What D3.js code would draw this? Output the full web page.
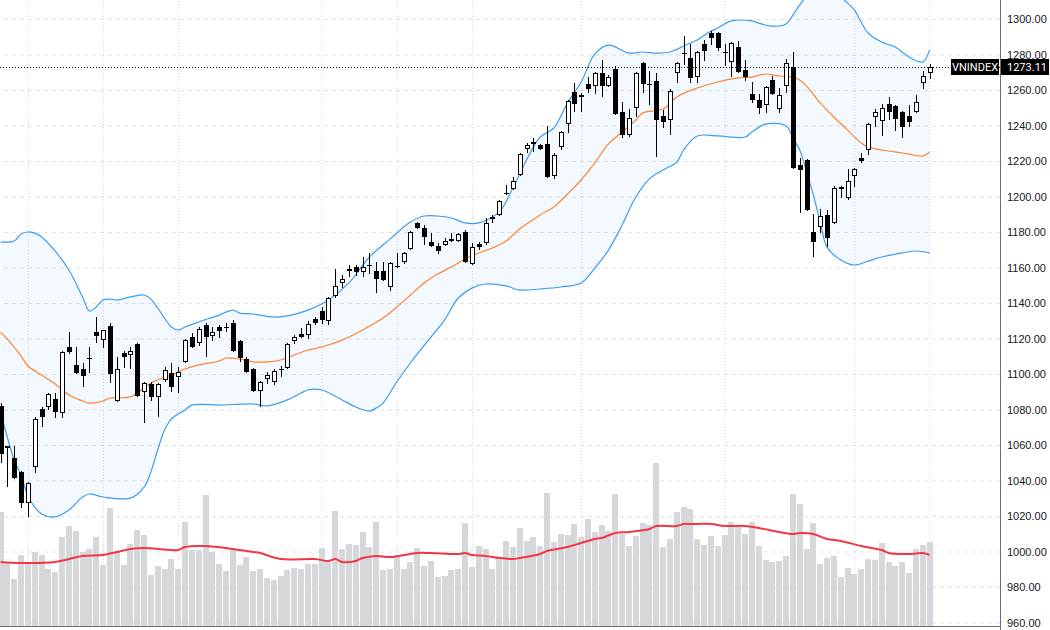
<!DOCTYPE html>
<html>
<head>
<meta charset="utf-8">
<script src="https://cdn.jsdelivr.net/npm/d3@7"></script>
<style>
body { margin: 0; background: #fff; }
svg { display: block; font-family: Roboto, "DejaVu Sans", sans-serif; }
</style>
</head>
<body>
<div id="chart"></div>
<script>
// VNINDEX daily candles (oldest -> newest)
var openVals = [1082.0,1058.3,1052.7,1044.8,1027.3,1047.6,1080.3,1081.4,1085.9,1078.0,
1115.2,1105.1,1102.8,1108.6,1123.6,1119.1,1127.0,1084.8,1111.8,1110.7,
1116.9,1089.9,1094.4,1087.1,1096.6,1100.6,1098.3,1106.8,1120.8,1117.5,
1127.6,1121.4,1126.5,1126.2,1128.7,1118.6,1108.4,1102.8,1090.4,1097.2,
1095.5,1102.6,1103.4,1118.6,1122.5,1122.0,1131.0,1135.5,1129.9,1143.9,
1151.3,1159.1,1160.3,1157.5,1161.1,1158.0,1158.0,1149.0,1160.5,1163.1,
1170.4,1185.1,1182.3,1174.4,1172.1,1172.7,1176.0,1174.9,1180.0,1162.0,
1173.2,1173.8,1188.4,1189.6,1201.7,1204.2,1212.1,1226.8,1230.7,1229.0,
1229.6,1211.5,1227.9,1240.8,1258.9,1256.1,1263.4,1262.2,1269.6,1262.2,
1271.8,1247.6,1234.6,1249.9,1275.2,1263.1,1265.1,1245.3,1243.1,1269.6,
1280.6,1278.0,1267.3,1285.9,1292.1,1292.1,1281.4,1275.8,1284.2,1271.3,
1257.7,1254.4,1251.5,1265.6,1249.3,1262.2,1273.0,1217.7,1220.6,1180.0,
1182.8,1189.6,1185.1,1205.4,1199.1,1211.5,1221.7,1226.2,1244.8,1242.5,
1252.1,1251.0,1247.6,1245.3,1247.6,1263.9,1269.6];

var highVals = [1083.6,1059.4,1059.4,1045.3,1039.1,1075.8,1081.4,1089.3,1089.3,1113.0,
1123.6,1115.2,1106.2,1115.2,1132.1,1124.8,1128.7,1109.6,1112.9,1115.2,
1117.5,1095.5,1095.5,1094.9,1104.0,1106.2,1104.0,1119.7,1123.1,1126.5,
1128.7,1126.5,1127.6,1128.7,1130.4,1119.1,1109.6,1103.4,1096.1,1101.1,
1102.8,1104.5,1117.5,1122.0,1125.9,1129.9,1132.1,1137.7,1143.4,1159.1,
1155.8,1161.4,1161.4,1165.9,1168.2,1163.1,1163.1,1163.1,1168.2,1168.7,
1180.6,1185.6,1184.0,1179.4,1173.8,1176.6,1179.4,1179.4,1181.1,1173.8,
1174.4,1187.9,1189.6,1198.0,1206.5,1211.0,1224.5,1230.1,1233.0,1229.6,
1239.7,1224.5,1236.9,1254.4,1263.9,1258.3,1267.3,1270.1,1276.9,1268.4,
1273.5,1253.2,1249.3,1270.1,1275.8,1270.7,1269.6,1248.7,1260.6,1275.8,
1290.4,1285.9,1282.0,1288.2,1293.2,1292.7,1285.9,1287.0,1287.6,1276.9,
1264.5,1257.7,1262.2,1267.9,1261.1,1277.5,1281.4,1221.7,1221.1,1190.1,
1192.9,1192.4,1205.9,1205.9,1215.5,1216.0,1224.5,1241.4,1249.3,1252.1,
1256.1,1251.5,1248.2,1251.5,1257.2,1270.7,1274.5];

var lowVals = [1049.8,1036.3,1040.8,1024.5,1019.4,1044.2,1070.1,1079.7,1075.2,1075.2,
1111.3,1100.0,1092.7,1100.6,1117.5,1114.6,1094.9,1084.2,1103.4,1102.8,
1087.1,1072.4,1084.8,1075.8,1095.5,1089.9,1089.3,1106.2,1114.6,1115.8,
1109.6,1118.6,1120.3,1123.6,1112.4,1106.8,1100.6,1089.9,1081.4,1094.4,
1093.8,1098.3,1102.8,1116.9,1120.3,1119.7,1127.6,1128.2,1127.6,1142.8,
1148.4,1154.6,1155.2,1154.6,1156.3,1145.6,1152.4,1146.7,1159.7,1162.0,
1169.8,1181.7,1172.7,1171.5,1167.6,1172.1,1174.4,1174.4,1162.5,1161.4,
1169.8,1172.7,1185.1,1189.0,1200.8,1203.7,1211.5,1224.5,1225.1,1226.2,
1210.4,1209.9,1226.2,1235.8,1247.6,1247.6,1258.3,1257.7,1256.1,1261.7,
1245.9,1233.0,1233.5,1244.8,1258.3,1251.5,1222.2,1238.6,1234.6,1263.9,
1274.1,1263.9,1263.9,1276.3,1285.3,1282.0,1273.5,1267.3,1269.6,1264.9,
1252.7,1246.5,1247.0,1257.2,1247.0,1258.3,1215.5,1190.7,1191.8,1165.9,
1179.4,1171.5,1184.5,1199.1,1198.0,1205.4,1218.9,1223.4,1239.1,1234.1,
1243.1,1236.9,1233.0,1239.1,1247.0,1260.6,1266.3];

var closeVals = [1054.9,1059.4,1041.4,1027.3,1038.6,1074.6,1075.8,1088.7,1078.6,1112.4,
1112.4,1100.6,1098.9,1109.0,1121.4,1124.8,1100.0,1102.8,1109.6,1112.9,
1087.6,1094.9,1087.1,1094.4,1102.2,1092.7,1101.1,1119.1,1115.2,1125.3,
1120.8,1123.6,1124.2,1126.5,1112.9,1109.0,1101.1,1090.4,1095.5,1099.4,
1101.7,1102.8,1116.9,1120.8,1120.8,1128.2,1128.7,1130.4,1142.8,1149.6,
1153.5,1158.0,1157.5,1160.3,1161.4,1153.5,1152.9,1162.5,1160.8,1168.2,
1180.0,1182.3,1177.2,1172.1,1169.3,1174.9,1174.9,1178.9,1163.1,1171.5,
1171.5,1185.1,1187.3,1197.5,1202.0,1208.7,1223.9,1229.0,1229.6,1226.8,
1211.0,1223.4,1236.3,1253.8,1252.1,1257.2,1260.6,1269.6,1262.2,1267.3,
1246.5,1234.6,1244.2,1269.6,1263.4,1263.4,1243.1,1242.0,1259.4,1275.2,
1280.8,1266.8,1281.4,1282.0,1289.3,1283.7,1280.8,1286.5,1270.1,1267.3,
1254.4,1249.9,1261.7,1257.7,1257.2,1275.2,1216.0,1214.9,1192.4,1174.4,
1189.0,1176.6,1204.8,1204.2,1208.7,1215.5,1220.0,1240.8,1247.6,1249.9,
1247.6,1243.7,1239.1,1242.0,1253.2,1267.9,1273.11];

// volume, millions of shares
var volumeVals = [684,378,282,426,384,444,426,342,324,534,
600,570,444,462,534,366,708,444,366,492,
576,546,306,360,342,402,342,624,456,456,
786,444,372,330,456,366,414,330,342,288,
276,300,336,348,342,372,372,468,390,690,
462,492,486,564,474,624,336,342,426,342,
384,468,360,390,294,300,336,342,618,354,
480,462,342,402,510,474,588,510,534,480,
798,504,552,546,612,534,642,564,606,570,
792,552,480,540,618,606,978,474,522,684,
714,702,522,486,540,480,546,624,600,552,
624,480,396,384,390,420,792,732,462,618,
372,408,420,294,348,312,342,402,396,498,
384,360,384,318,462,486,504];

// Bollinger band (20, 2) read at selected candles
var upperIdx = [0,2,3,4,5,6,8,10,12,13,14,15,16,17,19,21,22,23,24,25,26,27,29,32,34,35,37,40,42,45,48,51,54,57,60,62,64,66,68,70,73,75,77,79,81,83,85,87,89,92,94,96,98,100,102,104,105,107,110,111,113,115,116,117,118,120,122,124,125,126,127,129,131,133,135,136];
var upperVals = [1174.4,1174.9,1178.9,1180.0,1179.4,1177.2,1169.2,1158.6,1143.4,1135.5,1137.8,1141.7,1142.2,1141.7,1143.4,1144.5,1142.2,1137.2,1131.5,1126.5,1124.8,1126.5,1129.3,1133.2,1136.0,1134.3,1133.8,1132.1,1132.7,1136.0,1141.7,1151.3,1165.9,1176.0,1185.6,1189.0,1189.0,1187.9,1185.1,1185.1,1191.3,1204.8,1220.6,1233.5,1238.6,1252.7,1264.5,1280.3,1285.3,1280.8,1281.4,1280.8,1281.4,1284.8,1288.2,1293.2,1294.9,1298.9,1298.9,1297.7,1296.0,1297.2,1302.2,1307.9,1312.4,1316.3,1315.2,1309.0,1305.1,1298.3,1292.1,1287.0,1284.2,1278.6,1275.8,1282.5];

var midIdx = [0,1,3,4,6,8,10,12,13,15,16,19,21,22,23,25,27,29,32,33,35,37,39,41,43,45,47,50,53,56,58,60,62,64,66,68,70,72,74,76,79,81,83,85,87,89,91,93,94,97,99,102,105,108,110,112,114,116,117,118,120,122,124,126,127,129,131,133,135,136];
var midVals = [1123.6,1119.7,1110.1,1104.5,1099.4,1094.4,1088.2,1084.8,1083.6,1084.8,1086.5,1087.1,1092.1,1094.9,1096.6,1099.4,1102.8,1105.1,1107.3,1109.0,1108.4,1106.8,1106.8,1107.9,1110.7,1113.5,1115.2,1119.1,1124.8,1131.5,1137.7,1144.5,1151.3,1156.3,1160.3,1164.8,1168.2,1171.0,1174.9,1181.7,1189.6,1194.1,1201.4,1209.3,1218.9,1229.6,1236.3,1243.1,1247.0,1249.3,1256.1,1261.1,1264.5,1266.8,1267.3,1269.0,1267.9,1267.3,1265.6,1262.2,1252.7,1244.8,1237.5,1230.1,1227.9,1226.2,1225.1,1223.9,1222.8,1225.1];

var lowerIdx = [0,2,3,4,6,8,10,12,13,15,19,21,22,23,24,25,27,28,32,37,39,42,44,45,47,50,52,54,55,56,58,60,63,65,67,69,71,74,76,79,82,85,87,89,91,93,95,97,99,100,102,105,109,110,112,115,116,117,118,119,120,121,123,125,127,129,132,134,136];
var lowerVals = [1078.6,1051.5,1043.1,1031.3,1021.1,1019.5,1023.4,1030.7,1032.4,1030.7,1030.1,1036.3,1044.8,1057.2,1068.4,1074.6,1079.7,1082.5,1082.5,1083.1,1082.0,1085.4,1089.3,1091.0,1091.0,1085.4,1081.4,1079.1,1080.8,1083.6,1095.5,1106.2,1120.8,1130.4,1142.8,1148.4,1150.7,1149.6,1147.3,1147.9,1149.0,1151.3,1159.7,1169.8,1183.9,1199.7,1209.9,1214.9,1219.4,1226.2,1234.1,1234.1,1233.5,1236.3,1240.8,1239.7,1233.0,1226.2,1213.8,1200.8,1185.6,1171.5,1164.2,1161.4,1163.6,1165.9,1168.2,1169.3,1168.2];

// volume moving average
var volMaIdx = [0,3,8,12,15,17,19,21,26,27,30,34,37,38,41,46,48,49,50,52,53,55,57,61,63,67,68,69,71,73,75,76,79,80,83,85,87,88,90,92,95,96,99,100,101,104,106,109,111,114,116,117,119,121,123,126,129,130,133,135,136];
var volMaVals = [384,378,384,420,426,444,462,468,456,474,480,462,444,438,402,402,390,402,384,390,408,420,414,438,438,432,438,426,420,408,402,408,432,450,474,498,522,528,558,564,582,600,600,612,612,612,600,600,588,564,552,558,552,522,510,480,456,438,432,438,426];

var priceTicks = d3.range(960, 1301, 20);
var timeGridIdx = [4, 15, 26, 47, 58, 69, 85, 106, 125, 136];
var seriesName = "VNINDEX";

var width = 1050, height = 630;
var plotW = 1000, plotH = 626;

var svg = d3.select("#chart").append("svg")
    .attr("width", width)
    .attr("height", height);

svg.append("defs").append("clipPath").attr("id", "plotclip")
    .append("rect").attr("x", 0).attr("y", 0).attr("width", plotW).attr("height", plotH);

var x = d3.scaleLinear().domain([0, 136]).range([0.6, 929.5]);
var y = d3.scaleLinear().domain([960, 1300]).range([622.5, 19]);
var yVol = d3.scaleLinear().domain([0, 1000]).range([plotH, 459.3]);

// grid
svg.append("g")
    .attr("class", "hgrid")
    .attr("transform", "translate(" + plotW + ",0)")
    .call(d3.axisLeft(y).tickValues(priceTicks).tickSize(plotW).tickFormat(""))
    .call(function(g){ g.select(".domain").remove(); })
    .selectAll("line")
    .attr("stroke", "#dfe1e6")
    .attr("stroke-dasharray", "4,4");

svg.append("g")
    .attr("class", "vgrid")
    .attr("transform", "translate(0," + plotH + ")")
    .call(d3.axisBottom(x).tickValues(timeGridIdx).tickSize(-plotH).tickFormat(""))
    .call(function(g){ g.select(".domain").remove(); })
    .selectAll("line")
    .attr("stroke", "#d3d6de")
    .attr("stroke-dasharray", "1,2");

var plot = svg.append("g").attr("clip-path", "url(#plotclip)");

// volume bars
plot.selectAll("rect.vol")
    .data(volumeVals)
    .enter()
    .append("rect")
    .attr("class", "vol")
    .attr("x", function(d, i) { return Math.round(x(i) - 3); })
    .attr("width", 6)
    .attr("y", function(d) { return yVol(d); })
    .attr("height", function(d) { return plotH - yVol(d); })
    .attr("fill", "#d6d7db");

function pts(idx, vals, sy) {
    return idx.map(function(d, k) { return [x(d), sy(vals[k])]; });
}

var curve = d3.curveCatmullRom.alpha(0.5);
var lineGen = d3.line().curve(curve);

var upperPts = pts(upperIdx, upperVals, y);
var lowerPts = pts(lowerIdx, lowerVals, y);

// band fill
var upPath = lineGen(upperPts);
var lowPath = lineGen(lowerPts.slice().reverse());
plot.append("path")
    .attr("d", upPath + "L" + lowPath.slice(1) + "Z")
    .attr("fill", "rgba(33,150,243,0.055)");

plot.append("path")
    .attr("d", upPath)
    .attr("fill", "none")
    .attr("stroke", "#3d9cf0")
    .attr("stroke-width", 1.2);

plot.append("path")
    .attr("d", lineGen(lowerPts))
    .attr("fill", "none")
    .attr("stroke", "#3d9cf0")
    .attr("stroke-width", 1.2);

plot.append("path")
    .attr("d", lineGen(pts(midIdx, midVals, y)))
    .attr("fill", "none")
    .attr("stroke", "#ff8431")
    .attr("stroke-width", 1.2);

// volume MA
plot.append("path")
    .attr("d", lineGen(pts(volMaIdx, volMaVals, yVol)))
    .attr("fill", "none")
    .attr("stroke", "#f23645")
    .attr("stroke-width", 2);

// candles
var candles = openVals.map(function(o, i) {
    return {i: i, o: o, h: highVals[i], l: lowVals[i], c: closeVals[i]};
});

var cg = plot.selectAll("g.candle")
    .data(candles)
    .enter()
    .append("g")
    .attr("class", "candle");

cg.append("rect")
    .attr("x", function(d) { return Math.round(x(d.i)); })
    .attr("width", 1)
    .attr("y", function(d) { return Math.round(y(d.h)); })
    .attr("height", function(d) { return Math.max(1, Math.round(y(d.l)) - Math.round(y(d.h))); })
    .attr("fill", "#000");

function bodyTop(d) { return Math.round(y(Math.max(d.o, d.c))); }
function bodyH(d) { return Math.max(1, Math.round(y(Math.min(d.o, d.c))) - bodyTop(d)); }

cg.append("rect")
    .attr("x", function(d) { return Math.round(x(d.i)) - 2; })
    .attr("width", 5)
    .attr("y", bodyTop)
    .attr("height", bodyH)
    .attr("fill", "#000");

cg.filter(function(d) { return d.c >= d.o && bodyH(d) > 2; })
    .append("rect")
    .attr("x", function(d) { return Math.round(x(d.i)) - 1; })
    .attr("width", 3)
    .attr("y", function(d) { return bodyTop(d) + 1; })
    .attr("height", function(d) { return bodyH(d) - 2; })
    .attr("fill", "#fff");

// last price line
var last = closeVals[closeVals.length - 1];
svg.append("line")
    .attr("x1", 0).attr("x2", plotW)
    .attr("y1", Math.round(y(last)) + 0.5).attr("y2", Math.round(y(last)) + 0.5)
    .attr("stroke", "#000")
    .attr("stroke-dasharray", "1,2");

// price axis
var axisG = svg.append("g")
    .attr("transform", "translate(" + plotW + ",0)")
    .call(d3.axisRight(y).tickValues(priceTicks).tickSize(0).tickPadding(7).tickFormat(d3.format(".2f")));
axisG.select(".domain").remove();
axisG.selectAll("text")
    .attr("fill", "#131722")
    .style("font-size", "11px");

svg.append("line")
    .attr("x1", plotW + 0.5).attr("x2", plotW + 0.5)
    .attr("y1", 0).attr("y2", height)
    .attr("stroke", "#6b6e78");

svg.append("line")
    .attr("x1", 0).attr("x2", plotW)
    .attr("y1", plotH + 0.5).attr("y2", plotH + 0.5)
    .attr("stroke", "#6b6e78");

// last value labels
var ly = Math.round(y(last));
svg.append("rect")
    .attr("x", 951).attr("y", ly - 8)
    .attr("width", 48).attr("height", 16)
    .attr("fill", "#000");
svg.append("text")
    .attr("x", 975).attr("y", ly)
    .attr("dy", "0.35em")
    .attr("text-anchor", "middle")
    .attr("fill", "#fff")
    .style("font-size", "11px")
    .text(seriesName);

svg.append("rect")
    .attr("x", plotW + 1).attr("y", ly - 8)
    .attr("width", 48).attr("height", 16)
    .attr("fill", "#000");
svg.append("text")
    .attr("x", plotW + 7).attr("y", ly)
    .attr("dy", "0.35em")
    .attr("fill", "#fff")
    .style("font-size", "11px")
    .text(d3.format(".2f")(last));
</script>
</body>
</html>
